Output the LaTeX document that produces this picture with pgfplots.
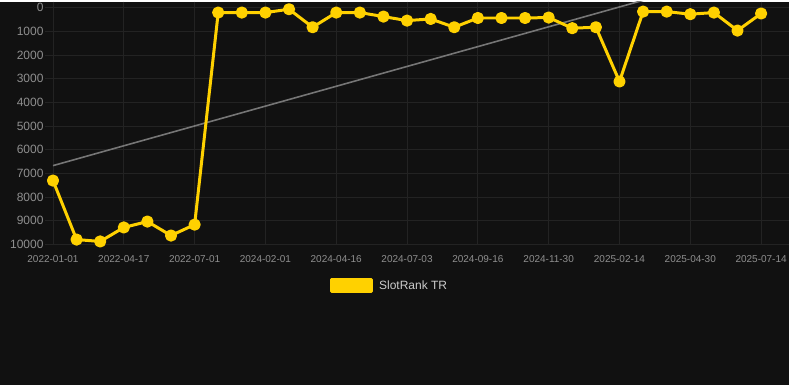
\documentclass[border=0pt]{standalone}
\usepackage{pgfplots}
\pgfplotsset{compat=1.18}
\usepackage{fontspec}
\setmainfont{Liberation Sans}
\definecolor{bg}{HTML}{111111}
\definecolor{gold}{HTML}{FFD100}
\definecolor{tickc}{HTML}{8F8F8F}
\definecolor{gridc}{HTML}{232323}
\definecolor{legc}{HTML}{CCCCCC}
\definecolor{trendc}{HTML}{767676}
\pgfplotstableread{
i rank
0 7300
1 9790
2 9870
3 9280
4 9030
5 9620
6 9160
7 210
8 210
9 210
10 70
11 830
12 210
13 210
14 380
15 550
16 480
17 830
18 440
19 440
20 440
21 420
22 870
23 830
24 3120
25 170
26 170
27 280
28 210
29 970
30 250
}\ranktable
\begin{document}
\begin{tikzpicture}[x=1pt,y=1pt]
\fill[bg] (0,0) rectangle (790,384);
\begin{axis}[
  at={(45pt,140pt)}, anchor=south west,
  scale only axis, width=745pt, height=244pt,
  xmin=-0.34, xmax=31.2, ymin=-250, ymax=10040, y dir=reverse,
  axis line style={draw=none},
  major tick length=0pt,
  grid=major, major grid style={gridc, line width=0.8pt},
  scaled y ticks=false,
  ytick={0,1000,...,10000},
  yticklabel style={font=\fontsize{12}{14}\selectfont, text=tickc, xshift=2pt, /pgf/number format/1000 sep={}},
  /pgf/number format/assume math mode=true,
  xtick={0,3,...,30},
  xticklabels={2022-01-01,2022-04-17,2022-07-01,2024-02-01,2024-04-16,2024-07-03,2024-09-16,2024-11-30,2025-02-14,2025-04-30,2025-07-14},
  xticklabel style={font=\fontsize{10}{12}\selectfont, text=tickc, yshift=-7pt},
  legend style={draw=none, fill=none, text=legc, font=\fontsize{12}{14}\selectfont,
    at={(0.4630,-0.164)}, anchor=center, inner sep=0pt,
    /tikz/every odd column/.append style={column sep=4pt}},
  legend cell align=left,
]
\addplot[trendc, line width=1.6pt, forget plot] coordinates {(0,6670) (30,-1700)};
\addplot[gold, line width=3pt, line join=round, mark=*, mark size=4.6pt, mark options={solid, fill=gold, draw=none},
  legend image code/.code={\fill[gold] (0pt,-6pt) rectangle (40pt,6pt);}]
  table[x=i, y=rank] {\ranktable};
\addlegendentry{SlotRank TR}
\end{axis}
\end{tikzpicture}
\end{document}
